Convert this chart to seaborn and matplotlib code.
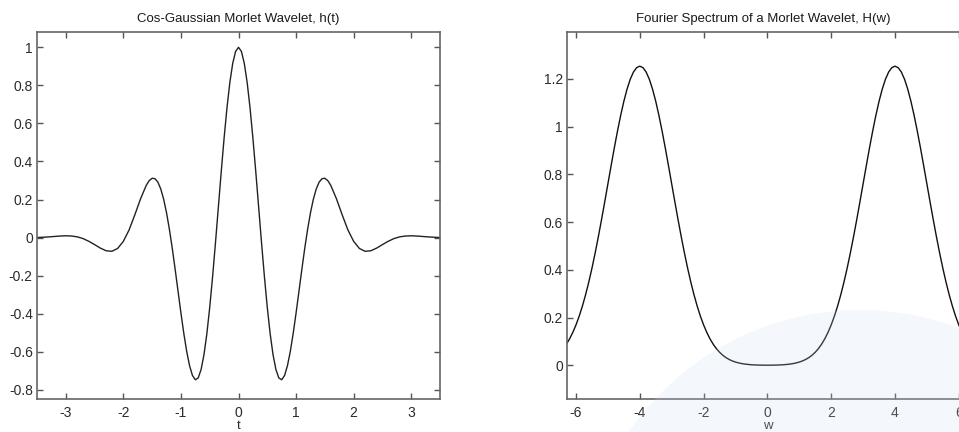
import numpy as np
import seaborn as sns
import matplotlib.pyplot as plt
from matplotlib.patches import Circle

# Morlet wavelet h(t)
t_vals = [-3.5, -3.4, -3.3, -3.2, -3.1, -3.0, -2.9, -2.8, -2.7, -2.6, -2.5, -2.4, -2.3, -2.2, -2.1, -2.0,
          -1.9, -1.8, -1.7, -1.6, -1.55, -1.5, -1.45, -1.4, -1.35, -1.3, -1.25, -1.2, -1.15, -1.1, -1.05,
          -1.0, -0.95, -0.9, -0.85, -0.8, -0.75, -0.7, -0.65, -0.6, -0.55, -0.5, -0.45, -0.4, -0.35, -0.3,
          -0.25, -0.2, -0.15, -0.1, -0.05, 0.0,
          0.05, 0.1, 0.15, 0.2, 0.25, 0.3, 0.35, 0.4, 0.45, 0.5, 0.55, 0.6, 0.65, 0.7, 0.75, 0.8, 0.85,
          0.9, 0.95, 1.0, 1.05, 1.1, 1.15, 1.2, 1.25, 1.3, 1.35, 1.4, 1.45, 1.5, 1.55, 1.6, 1.7, 1.8, 1.9,
          2.0, 2.1, 2.2, 2.3, 2.4, 2.5, 2.6, 2.7, 2.8, 2.9, 3.0, 3.1, 3.2, 3.3, 3.4, 3.5]
h_vals = [0.0003, 0.0016, 0.0035, 0.0058, 0.0081, 0.0094, 0.0082, 0.0038, -0.0053, -0.0196, -0.0369,
          -0.0553, -0.0692, -0.0722, -0.0573, -0.0197, 0.0406, 0.1204, 0.2050, 0.2761, 0.2998, 0.3117,
          0.3095, 0.2911, 0.2552, 0.2013, 0.1299, 0.0426, -0.0579, -0.1678, -0.2825, -0.3965, -0.5037,
          -0.5981, -0.6737, -0.7249, -0.7473, -0.7375, -0.6937, -0.6159, -0.5059, -0.3673, -0.2053,
          -0.0270, 0.1599, 0.3464, 0.5237, 0.6829, 0.8161, 0.9165, 0.9788, 1.0,
          0.9788, 0.9165, 0.8161, 0.6829, 0.5237, 0.3464, 0.1599, -0.0270, -0.2053, -0.3673, -0.5059,
          -0.6159, -0.6937, -0.7375, -0.7473, -0.7249, -0.6737, -0.5981, -0.5037, -0.3965, -0.2825,
          -0.1678, -0.0579, 0.0426, 0.1299, 0.2013, 0.2552, 0.2911, 0.3095, 0.3117, 0.2998, 0.2761,
          0.2050, 0.1204, 0.0406, -0.0197, -0.0573, -0.0722, -0.0692, -0.0553, -0.0369, -0.0196,
          -0.0053, 0.0038, 0.0082, 0.0094, 0.0081, 0.0058, 0.0035, 0.0016, 0.0003]

# Fourier spectrum H(w)
w_vals = [-6.28, -6.2, -6.1, -6.0, -5.9, -5.8, -5.7, -5.6, -5.5, -5.4, -5.3, -5.2, -5.1, -5.0, -4.9,
          -4.8, -4.7, -4.6, -4.5, -4.4, -4.3, -4.2, -4.1, -4.0, -3.9, -3.8, -3.7, -3.6, -3.5, -3.4,
          -3.3, -3.2, -3.1, -3.0, -2.9, -2.8, -2.7, -2.6, -2.5, -2.4, -2.3, -2.2, -2.1, -2.0, -1.9,
          -1.8, -1.7, -1.6, -1.5, -1.4, -1.3, -1.2, -1.1, -1.0, -0.9, -0.8, -0.7, -0.6, -0.5, -0.4,
          -0.3, -0.2, -0.1, 0.0,
          0.1, 0.2, 0.3, 0.4, 0.5, 0.6, 0.7, 0.8, 0.9, 1.0, 1.1, 1.2, 1.3, 1.4, 1.5, 1.6, 1.7, 1.8,
          1.9, 2.0, 2.1, 2.2, 2.3, 2.4, 2.5, 2.6, 2.7, 2.8, 2.9, 3.0, 3.1, 3.2, 3.3, 3.4, 3.5, 3.6,
          3.7, 3.8, 3.9, 4.0, 4.1, 4.2, 4.3, 4.4, 4.5, 4.6, 4.7, 4.8, 4.9, 5.0, 5.1, 5.2, 5.3, 5.4,
          5.5, 5.6, 5.7, 5.8, 5.9, 6.0, 6.1, 6.2, 6.28]
H_vals = [0.0932, 0.1114, 0.1382, 0.1696, 0.2061, 0.2480, 0.2955, 0.3485, 0.4069, 0.4704, 0.5384,
          0.6100, 0.6844, 0.7602, 0.8359, 0.9101, 0.9810, 1.0468, 1.1060, 1.1569, 1.1982, 1.2285,
          1.2470, 1.2533, 1.2470, 1.2285, 1.1982, 1.1569, 1.1060, 1.0468, 0.9810, 0.9101, 0.8359,
          0.7602, 0.6844, 0.6100, 0.5384, 0.4704, 0.4069, 0.3485, 0.2955, 0.2480, 0.2061, 0.1696,
          0.1382, 0.1114, 0.0890, 0.0703, 0.0551, 0.0427, 0.0327, 0.0249, 0.0187, 0.0139, 0.0103,
          0.0075, 0.0054, 0.0039, 0.0027, 0.0020, 0.0014, 0.0011, 0.0009, 0.0008,
          0.0009, 0.0011, 0.0014, 0.0020, 0.0027, 0.0039, 0.0054, 0.0075, 0.0103, 0.0139, 0.0187,
          0.0249, 0.0327, 0.0427, 0.0551, 0.0703, 0.0890, 0.1114, 0.1382, 0.1696, 0.2061, 0.2480,
          0.2955, 0.3485, 0.4069, 0.4704, 0.5384, 0.6100, 0.6844, 0.7602, 0.8359, 0.9101, 0.9810,
          1.0468, 1.1060, 1.1569, 1.1982, 1.2285, 1.2470, 1.2533, 1.2470, 1.2285, 1.1982, 1.1569,
          1.1060, 1.0468, 0.9810, 0.9101, 0.8359, 0.7602, 0.6844, 0.6100, 0.5384, 0.4704, 0.4069,
          0.3485, 0.2955, 0.2480, 0.2061, 0.1696, 0.1382, 0.1114, 0.0932]

t_ticks = [-3, -2, -1, 0, 1, 2, 3]
h_ticks = [-0.8, -0.6, -0.4, -0.2, 0, 0.2, 0.4, 0.6, 0.8, 1]
w_ticks = [-6, -4, -2, 0, 2, 4, 6]
H_ticks = [0, 0.2, 0.4, 0.6, 0.8, 1, 1.2]

sns.set_theme(style="white")
plt.rcParams['font.family'] = ['Liberation Sans', 'DejaVu Sans']

fig = plt.figure(figsize=(9.59, 4.32), dpi=100)
ax1 = fig.add_axes([0.0386, 0.0757, 0.4202, 0.850])
ax2 = fig.add_axes([0.5912, 0.0757, 0.4180, 0.850])

sns.lineplot(x=t_vals, y=h_vals, ax=ax1, color='#222222', linewidth=1.0, sort=False)
sns.lineplot(x=w_vals, y=H_vals, ax=ax2, color='#111111', linewidth=1.0, sort=False)

def style_axes(ax, xt, yt):
    ax.set_xticks(xt)
    ax.set_yticks(yt)
    ax.set_xticklabels([f"{v:g}" for v in xt])
    ax.set_yticklabels([f"{v:g}" for v in yt])
    # matlab-like box: inward ticks on all four sides
    ax.tick_params(axis='both', which='both', direction='in', length=4, width=1.0, color='#555555',
                   labelsize=10, labelcolor='#2a2a2a',
                   top=True, right=True, bottom=True, left=True)
    ax.tick_params(axis='x', pad=5)
    ax.tick_params(axis='y', pad=3)
    for sp in ax.spines.values():
        sp.set_color('#666666')
        sp.set_linewidth(1.2)

ax1.set_xlim(-3.5, 3.5)
ax1.set_ylim(-0.85, 1.08)
style_axes(ax1, t_ticks, h_ticks)
ax1.set_title('Cos-Gaussian Morlet Wavelet, h(t)', fontsize=9.5, color='#1a1a1a', pad=7)
ax1.set_xlabel('t', fontsize=9.5, color='#2a2a2a', labelpad=0)

ax2.set_xlim(-2 * np.pi, 2 * np.pi)
ax2.set_ylim(-0.142, 1.396)
style_axes(ax2, w_ticks, H_ticks)
ax2.set_title('Fourier Spectrum of a Morlet Wavelet, H(w)', fontsize=9.5, color='#1a1a1a', pad=7,
              x=0.49)
ax2.set_xlabel('w', fontsize=9.5, color='#2a2a2a', labelpad=0)

# faint watermark disc in the lower right corner
wm = Circle((8.6, -1.58), 2.8, transform=fig.dpi_scale_trans, facecolor='#c9d8ee',
            edgecolor='none', alpha=0.2, zorder=5)
fig.patches.append(wm)

fig.savefig('out.png', dpi=100)
